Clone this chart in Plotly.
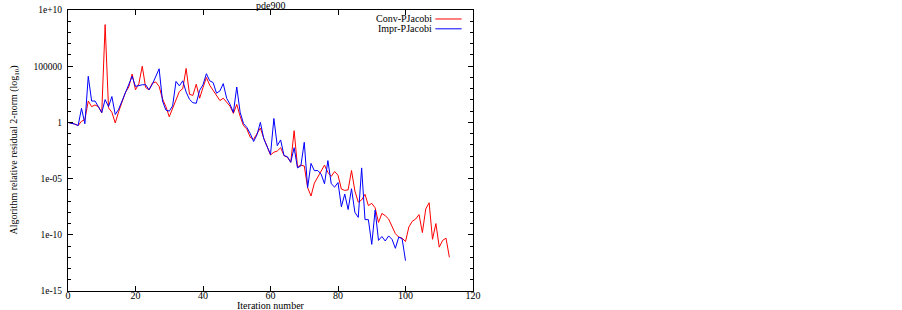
import plotly.graph_objects as go

# residual norms, stored as log10 exponents
conv_log10 = [0.0, -0.05, -0.15, -0.28, 0.1, 0.25, 1.9, 1.4, 1.55, 1.4,
              0.85, 8.7, 1.3, 0.9, -0.05, 0.95, 1.9, 2.65, 3.15, 4.3,
              2.9, 3.45, 5.0, 3.1, 2.9, 3.5, 3.6, 3.2, 2.1, 1.4,
              0.5, 1.2, 2.0, 2.75, 3.0, 4.8, 2.5, 2.4, 3.4, 2.15,
              3.1, 4.0, 3.3, 2.85, 2.3, 1.95, 2.15, 1.8, 1.45, 0.8,
              1.6, 0.55, -0.3, -0.6, -1.33, -1.5, -1.05, -0.5, -1.4, -2.2,
              -2.9, -2.65, -2.55, -2.25, -2.95, -3.1, -3.55, -0.74, -3.95, -3.8,
              -3.88, -5.8, -6.55, -5.4, -4.87, -4.45, -3.8, -4.45, -4.8, -4.37,
              -4.7, -5.93, -6.05, -6.0, -4.28, -6.1, -7.1, -6.9, -6.4, -7.4,
              -7.2, -7.6, -8.9, -8.1, -8.3, -8.6, -9.3, -9.9, -10.2, -10.3,
              -10.6, -9.3, -8.8, -8.6, -8.2, -9.8, -7.7, -7.15, -10.4, -9.0,
              -11.1, -10.5, -10.3, -12.0]

impr_log10 = [0.0, -0.05, -0.15, -0.28, 1.25, -0.12, 4.1, 1.9, 1.9, 1.4,
              0.87, 2.03, 1.4, 2.3, 0.7, 1.17, 1.9, 2.6, 3.25, 4.1,
              3.2, 3.3, 3.35, 3.35, 2.9, 3.4, 4.1, 4.77, 1.9, 1.1,
              1.0, 1.47, 3.65, 3.25, 3.7, 2.7, 2.05, 1.75, 1.7, 2.85,
              3.35, 4.33, 3.7, 3.54, 2.6, 2.8, 3.45, 2.15, 1.62, 0.88,
              3.15, 0.9, -0.1, -0.45, -1.0, -1.7, -1.1, 0.0, -1.45, -2.2,
              -2.85, 0.35, -2.07, -1.56, -2.95, -3.05, -3.55, -2.25, -4.05, -3.87,
              -1.77, -5.8, -3.65, -4.3, -4.28, -4.6, -5.46, -3.4, -5.46, -5.76,
              -5.35, -7.5, -6.38, -7.75, -5.9, -8.0, -8.45, -4.05, -8.65, -8.65,
              -10.85, -7.8, -10.5, -10.15, -10.55, -10.1, -10.4, -11.2, -10.2, -10.35,
              -12.3]

series_names = ["Conv-PJacobi", "Impr-PJacobi"]
series_colors = ["rgb(255,0,0)", "rgb(0,0,255)"]

x_tick_vals = [0, 20, 40, 60, 80, 100, 120]
y_tick_exps = [10, 5, 0, -5, -10, -15]
y_tick_text = ["1e+10", "100000", "1", "1e-05", "1e-10", "1e-15"]
y_minor_exps = list(range(-15, 11))

conv_iter = list(range(len(conv_log10)))
impr_iter = list(range(len(impr_log10)))

FONT = "Liberation Serif"

fig = go.Figure()
fig.add_trace(go.Scatter(x=conv_iter, y=[10 ** v for v in conv_log10], mode="lines",
                         name=series_names[0], line=dict(color=series_colors[0], width=1),
                         showlegend=False))
fig.add_trace(go.Scatter(x=impr_iter, y=[10 ** v for v in impr_log10], mode="lines",
                         name=series_names[1], line=dict(color=series_colors[1], width=1),
                         showlegend=False))

fig.update_layout(
    width=902, height=310,
    margin=dict(l=67.5, r=429, t=10, b=19, autoexpand=False),
    plot_bgcolor="white", paper_bgcolor="white",
    font=dict(family=FONT, size=10, color="black"),
)

fig.update_xaxes(
    range=[0, 120], tickvals=x_tick_vals, ticks="inside", ticklen=5, tickcolor="black",
    showline=True, linecolor="black", linewidth=1, mirror="allticks",
    showgrid=False, zeroline=False, tickfont=dict(family=FONT, size=10),
    ticklabelstandoff=-5, automargin=False,
)
fig.update_yaxes(
    type="log", range=[-15, 10],
    tickvals=[10 ** e for e in y_tick_exps], ticktext=y_tick_text,
    ticks="inside", ticklen=5, tickcolor="black",
    minor=dict(tickvals=[10 ** e for e in y_minor_exps], ticks="inside", ticklen=3,
               tickcolor="black", showgrid=False),
    showline=True, linecolor="black", linewidth=1, mirror="allticks",
    showgrid=False, zeroline=False, tickfont=dict(family=FONT, size=9.5),
    ticklabelstandoff=3, automargin=False,
)

annotations = [
    dict(text="pde900", xref="paper", yref="paper", x=0.5, y=1.0, yshift=5,
         xanchor="center", yanchor="middle", showarrow=False, borderpad=0,
         font=dict(family=FONT, size=10)),
    dict(text="Iteration number", xref="paper", yref="paper", x=0.5, y=0, yshift=-14,
         xanchor="center", yanchor="middle", showarrow=False, borderpad=0,
         font=dict(family=FONT, size=10)),
    dict(text="Algorithm relative residual 2-norm (log<sub>10</sub>)", xref="paper", yref="paper",
         x=0, xshift=-54, y=0.5, xanchor="center", yanchor="middle", textangle=-90,
         showarrow=False, font=dict(family=FONT, size=10)),
]
legend_y = [0.968, 0.933]
shapes = []
for name, color, ly in zip(series_names, series_colors, legend_y):
    annotations.append(dict(text=name, xref="paper", yref="paper", x=0.9, y=ly,
                            xanchor="right", yanchor="middle", showarrow=False,
                            borderpad=0, font=dict(family=FONT, size=10)))
    shapes.append(dict(type="line", xref="paper", yref="paper", x0=0.907, x1=0.972,
                       y0=ly, y1=ly, line=dict(color=color, width=1)))

fig.update_layout(annotations=annotations, shapes=shapes)

fig.write_html("out.html", config={"displayModeBar": False},
               post_script="document.body.style.margin='0';")
